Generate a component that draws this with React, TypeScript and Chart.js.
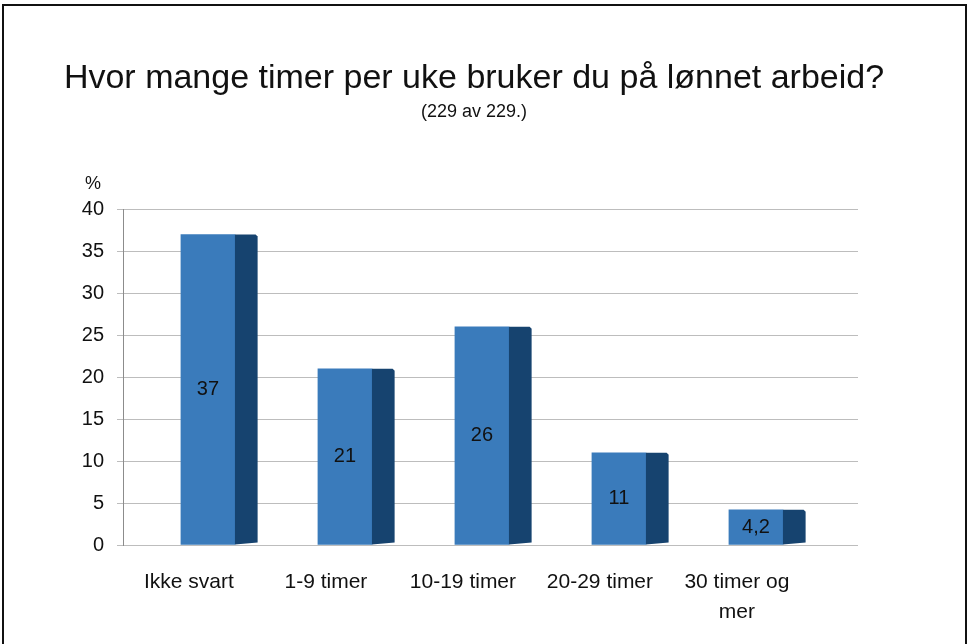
import React, { useEffect, useRef } from 'react';
import { Chart, registerables } from 'chart.js';

Chart.register(...registerables);

const categories = ['Ikke svart', '1-9 timer', '10-19 timer', '20-29 timer', '30 timer og mer'];
const categoryLines = [['Ikke svart'], ['1-9 timer'], ['10-19 timer'], ['20-29 timer'], ['30 timer og', 'mer']];
const percentValues = [37, 21, 26, 11, 4.2];
const yMin = 0;
const yMax = 40;
const yStep = 5;
const titleText = 'Hvor mange timer per uke bruker du på lønnet arbeid?';
const subtitleText = '(229 av 229.)';
const unitLabel = '%';

const FONT = "'Liberation Sans', Arial, sans-serif";
const FRONT = '#3a7bbb';
const SIDE = '#16436f';

const barDecor = {
  id: 'barDecor',
  afterDatasetsDraw(chart: any) {
    const ctx = chart.ctx;
    const meta = chart.getDatasetMeta(0);
    ctx.save();
    meta.data.forEach((el: any, i: number) => {
      const { x, y, base, width } = el.getProps(['x', 'y', 'base', 'width'], true);
      const r = x + width / 2;
      const d = width * 0.42;
      ctx.fillStyle = SIDE;
      ctx.beginPath();
      ctx.moveTo(r, y);
      ctx.lineTo(r + d - 2, y);
      ctx.lineTo(r + d, y + 2);
      ctx.lineTo(r + d, base - 2);
      ctx.lineTo(r, base);
      ctx.closePath();
      ctx.fill();
      const v = percentValues[i];
      ctx.fillStyle = '#111';
      ctx.font = `20px ${FONT}`;
      ctx.textAlign = 'center';
      ctx.textBaseline = 'middle';
      ctx.fillText(String(v).replace('.', ','), x, (y + base) / 2);
    });
    ctx.fillStyle = '#111';
    ctx.font = `18px ${FONT}`;
    ctx.textAlign = 'center';
    ctx.textBaseline = 'bottom';
    ctx.fillText(unitLabel, chart.chartArea.left - 30, chart.chartArea.top - 16);
    ctx.restore();
  },
};

export default function App() {
  const ref = useRef<HTMLCanvasElement>(null);
  useEffect(() => {
    if (!ref.current) return;
    const chart = new Chart(ref.current, {
      type: 'bar',
      data: {
        labels: categories,
        datasets: [
          {
            label: unitLabel,
            data: percentValues.map((v, i) => ({ x: i, y: v })),
            backgroundColor: FRONT,
            borderWidth: 0,
            barThickness: 54,
          },
        ],
      },
      options: {
        responsive: false,
        animation: false,
        layout: { padding: { top: 0, right: 20, bottom: 0, left: 0 } },
        plugins: {
          legend: { display: false },
          tooltip: { enabled: false },
          title: {
            display: true,
            text: titleText,
            color: '#111',
            font: { family: FONT, size: 34, weight: 'normal' },
            padding: { top: 58, bottom: 0 },
          },
          subtitle: {
            display: true,
            text: subtitleText,
            color: '#111',
            font: { family: FONT, size: 18, weight: 'normal' },
            padding: { top: 2, bottom: 87 },
          },
        },
        scales: {
          x: {
            type: 'linear',
            offset: false,
            min: -0.62,
            max: 4.745,
            grid: { display: false, drawTicks: false },
            border: { display: false },
            afterBuildTicks: (s: any) => {
              s.ticks = categories.map((_, i) => ({ value: i }));
            },
            afterFit: (s: any) => {
              s.height = 99;
            },
            ticks: {
              autoSkip: false,
              maxRotation: 0,
              minRotation: 0,
              labelOffset: -19,
              padding: 22,
              color: '#111',
              font: { family: FONT, size: 21, lineHeight: 1.45 },
              callback: (v: any) => categoryLines[v as number] ?? '',
            },
          },
          y: {
            min: yMin,
            max: yMax,
            afterFit: (s: any) => {
              s.width = 123;
            },
            grid: { color: '#bdbdbd', lineWidth: 1, tickLength: 6 },
            border: { color: '#8c8c8c' },
            ticks: {
              stepSize: yStep,
              padding: 13,
              color: '#111',
              font: { family: FONT, size: 20 },
            },
          },
          yRight: {
            type: 'linear',
            position: 'right',
            display: true,
            grid: { display: false, drawTicks: false },
            border: { display: false },
            ticks: { display: false },
            afterFit: (s: any) => {
              s.width = 90;
            },
          },
        },
      },
      plugins: [barDecor],
    });
    return () => chart.destroy();
  }, []);
  return (
    <div style={{ position: 'fixed', left: 0, top: 0, width: 968, height: 644, background: '#fff' }}>
      <canvas ref={ref} width={968} height={644} style={{ position: 'absolute', left: 0, top: 0 }} />
      <div
        style={{
          position: 'absolute',
          left: 2,
          top: 4,
          width: 961,
          height: 700,
          border: '2px solid #111',
          pointerEvents: 'none',
        }}
      />
    </div>
  );
}
